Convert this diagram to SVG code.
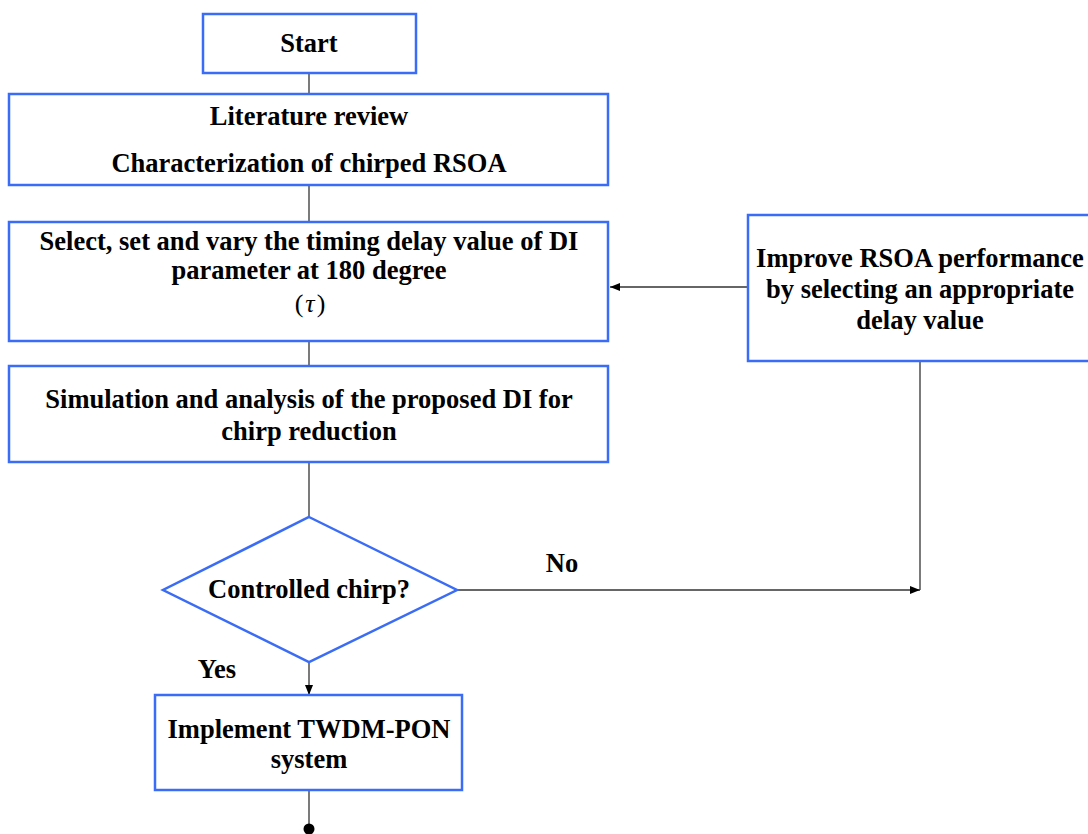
<svg xmlns="http://www.w3.org/2000/svg" width="1088" height="834" viewBox="0 0 1088 834">
  <style>
    .box { fill: #ffffff; stroke: #3b6cf5; stroke-width: 2.5; }
    .lbl { font-family: "Liberation Serif", "Times New Roman", serif; font-weight: bold; font-size: 26.5px; fill: #000; text-anchor: middle; }
    .edge { fill: none; stroke: #333; stroke-width: 1.3; }
    .math { font-family: "Liberation Serif", "Times New Roman", serif; font-size: 26px; fill: #000; text-anchor: middle; }
  </style>
  <defs>
    <marker id="arrow" viewBox="0 0 10 10" refX="10" refY="5" markerWidth="10" markerHeight="10" markerUnits="userSpaceOnUse" orient="auto">
      <path d="M0,1 L10,5 L0,9 Z" fill="#000"/>
    </marker>
  </defs>
  <rect width="1088" height="834" fill="#ffffff"/>

  <!-- connectors -->
  <g id="connectors">
    <line class="edge" x1="309" y1="73" x2="309" y2="94"/>
    <line class="edge" x1="309" y1="185" x2="309" y2="222"/>
    <line class="edge" x1="309" y1="341" x2="309" y2="366"/>
    <line class="edge" x1="309" y1="462" x2="309" y2="517"/>
    <line class="edge" x1="309" y1="662" x2="309" y2="695" marker-end="url(#arrow)"/>
    <line class="edge" x1="309" y1="790" x2="309" y2="828"/>
    <circle cx="309" cy="829" r="5.5" fill="#000"/>
    <polyline class="edge" points="457,590 920,590" marker-end="url(#arrow)"/>
    <line class="edge" x1="920" y1="361" x2="920" y2="590"/>
    <line class="edge" x1="748" y1="287" x2="610" y2="287" marker-end="url(#arrow)"/>
    <text class="lbl" x="562" y="572">No</text>
    <text class="lbl" x="217" y="678">Yes</text>
  </g>

  <g id="start">
    <rect class="box" x="203" y="14" width="213" height="59"/>
    <text class="lbl" x="309" y="52">Start</text>
  </g>

  <g id="literature">
    <rect class="box" x="9" y="94" width="599" height="91"/>
    <text class="lbl" x="309" y="125">Literature review</text>
    <text class="lbl" x="309" y="172">Characterization of chirped RSOA</text>
  </g>

  <g id="select-delay">
    <rect class="box" x="9" y="222" width="599" height="119"/>
    <text class="lbl" x="309" y="250">Select, set and vary the timing delay value of DI</text>
    <text class="lbl" x="309" y="279">parameter at 180 degree</text>
    <text class="math" x="310" y="312">(<tspan font-style="italic" dx="2">τ</tspan><tspan dx="2">)</tspan></text>
  </g>

  <g id="simulation">
    <rect class="box" x="9" y="366" width="599" height="96"/>
    <text class="lbl" x="309" y="408">Simulation and analysis of the proposed DI for</text>
    <text class="lbl" x="309" y="440">chirp reduction</text>
  </g>

  <g id="improve">
    <rect class="box" x="748" y="215" width="345" height="146"/>
    <text class="lbl" x="920" y="267">Improve RSOA performance</text>
    <text class="lbl" x="920" y="298">by selecting an appropriate</text>
    <text class="lbl" x="920" y="329">delay value</text>
  </g>

  <g id="decision">
    <polygon class="box" points="309,517 457,590 309,662 163,590"/>
    <text class="lbl" x="309" y="598">Controlled chirp?</text>
  </g>

  <g id="implement">
    <rect class="box" x="155" y="695" width="307" height="95"/>
    <text class="lbl" x="309" y="738">Implement TWDM-PON</text>
    <text class="lbl" x="309" y="768">system</text>
  </g>
</svg>
